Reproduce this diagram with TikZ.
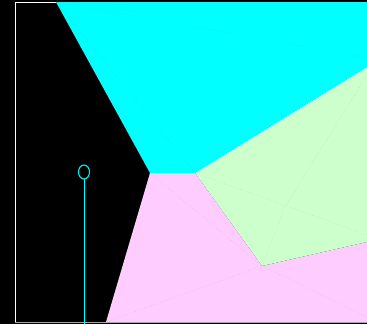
\documentclass[tikz,border=0pt]{standalone}
\definecolor{cyreg}{HTML}{00FFFF}
\definecolor{pkreg}{HTML}{FFCCFF}
\definecolor{gnreg}{HTML}{CCFFCC}
\tikzset{
  region/.style={draw=none},
  faint/.style={line width=0.4pt, dotted},
  marker/.style={draw=cyreg, line width=1pt}
}
\begin{document}
\begin{tikzpicture}[x=1pt,y=-1pt]
\useasboundingbox (0,0) rectangle (367,324);
\fill[black] (0,0) rectangle (367,324);
% named corners
\coordinate (tl) at (56,2);
\coordinate (tr) at (367,2);
\coordinate (rc) at (367,67);
\coordinate (ml) at (150,173);
\coordinate (mr) at (195,173);
\coordinate (gb) at (262,266);
\coordinate (rg) at (367,242);
\coordinate (br) at (367,322);
\coordinate (bl) at (106,322);
% frame
\draw[white, line width=1pt] (15.5,322.5) -- (15.5,2.5) -- (56,2.5);
% regions
\fill[cyreg, region] (tl) -- (tr) -- (rc) -- (mr) -- (ml) -- cycle;
\fill[gnreg, region] (mr) -- (rc) -- (rg) -- (gb) -- cycle;
\fill[pkreg, region] (ml) -- (mr) -- (gb) -- (rg) -- (br) -- (bl) -- cycle;
% faint triangulation lines
\draw[faint, cyreg!85!black] (tl) -- (367,58);
\draw[faint, cyreg!85!black] (tl) -- (mr);
\draw[faint, gnreg!85!black] (mr) -- (367,235);
\draw[faint, gnreg!85!black] (gb) -- (285,207) -- (367,75);
\draw[faint, pkreg!85!black] (ml) -- (gb);
\draw[faint, pkreg!85!black] (bl) -- (gb);
\draw[faint, pkreg!85!black] (gb) -- (367,317);
% bottom frame line
\draw[gray!70, line width=1pt] (15,322.5) -- (367,322.5);
% marker
\draw[marker] (84,172) ellipse [x radius=5.5, y radius=7];
\coordinate (mk) at (84,179);
\coordinate (mkend) at (84,324);
\draw[marker] (mk) -- (mkend);
\end{tikzpicture}
\end{document}
